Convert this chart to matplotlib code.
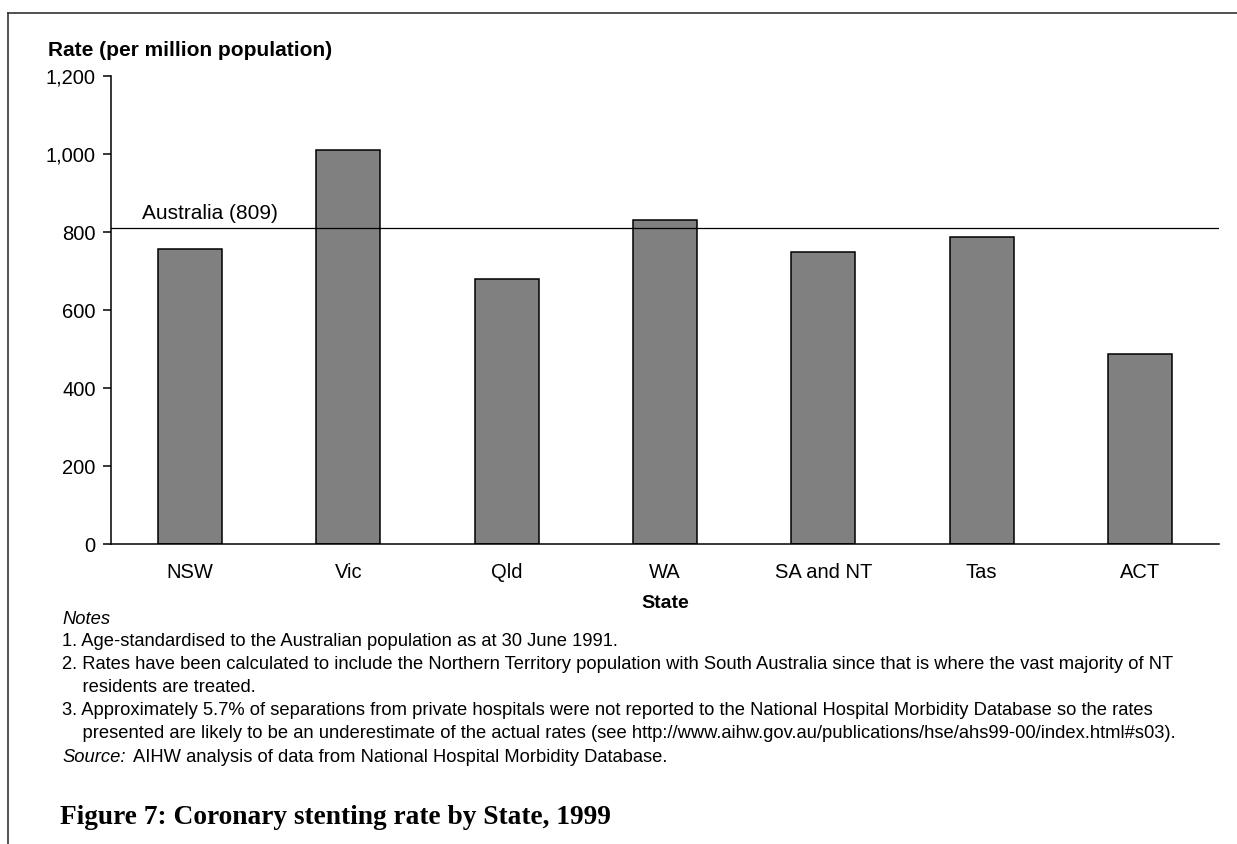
import numpy as np
import matplotlib.pyplot as plt
from matplotlib.lines import Line2D

plt.rcParams['font.family'] = ['Liberation Sans', 'DejaVu Sans']

states = ['NSW', 'Vic', 'Qld', 'WA', 'SA and NT', 'Tas', 'ACT']
rates = [756, 1010, 679, 830, 748, 787, 488]
australia = 809
yticks = [0, 200, 400, 600, 800, 1000, 1200]

notes = [
    '1. Age-standardised to the Australian population as at 30 June 1991.',
    '2. Rates have been calculated to include the Northern Territory population with South Australia since that is where the vast majority of NT',
    '    residents are treated.',
    '3. Approximately 5.7% of separations from private hospitals were not reported to the National Hospital Morbidity Database so the rates',
    '    presented are likely to be an underestimate of the actual rates (see http://www.aihw.gov.au/publications/hse/ahs99-00/index.html#s03).',
]

W, H = 1237, 844
fig = plt.figure(figsize=(W / 100, H / 100), dpi=100)
ax = fig.add_axes([111 / W, 1 - 544 / H, (1219 - 111) / W, (544 - 76) / H])

x = np.arange(len(states))
ax.bar(x, rates, width=0.405, color='#808080', edgecolor='black', linewidth=1.1, zorder=2)
ax.axhline(australia, color='black', linewidth=0.9, zorder=3)
ax.text(-0.305, australia + 24, 'Australia (%d)' % australia, fontsize=15, va='baseline', ha='left')

ax.set_xlim(-0.5, len(states) - 0.5)
ax.set_ylim(0, 1200)
ax.set_yticks(yticks)
ax.set_yticklabels(['{:,}'.format(v) for v in yticks], fontsize=14.5)
ax.set_xticks(x)
ax.set_xticklabels(states, fontsize=14.5)
ax.tick_params(axis='x', length=0, pad=14)
ax.tick_params(axis='y', direction='out', length=6, width=1.1, pad=5)
for s in ['top', 'right']:
    ax.spines[s].set_visible(False)
for s in ['left', 'bottom']:
    ax.spines[s].set_linewidth(1.1)

fig.text(665 / W, 1 - 603 / H, 'State', fontsize=14, fontweight='bold', ha='center', va='center')
fig.text(48 / W, 1 - 50 / H, 'Rate (per million population)', fontsize=15, fontweight='bold', ha='left', va='center')

# notes and source under the chart
fs = 13.2
fig.text(62 / W, 1 - 619 / H, 'Notes', fontsize=fs, style='italic', ha='left', va='center')
for i, line in enumerate(notes):
    fig.text(62 / W, 1 - (641 + 23.2 * i) / H, line, fontsize=fs, ha='left', va='center')
fig.text(62 / W, 1 - 757 / H, 'Source:', fontsize=fs, style='italic', ha='left', va='center')
fig.text(133 / W, 1 - 757 / H, 'AIHW analysis of data from National Hospital Morbidity Database.',
         fontsize=fs, ha='left', va='center')

fig.text(60 / W, 1 - 818 / H, 'Figure 7: Coronary stenting rate by State, 1999',
         fontsize=19.7, fontweight='bold', family='Liberation Serif', ha='left', va='center')

# open frame: top and left edges only
fig.add_artist(Line2D([8 / W, 1], [1 - 13 / H, 1 - 13 / H], color='#333333', linewidth=1.2))
fig.add_artist(Line2D([8 / W, 8 / W], [1 - 13 / H, 0], color='#333333', linewidth=1.2))

fig.savefig('out.png', dpi=100)
